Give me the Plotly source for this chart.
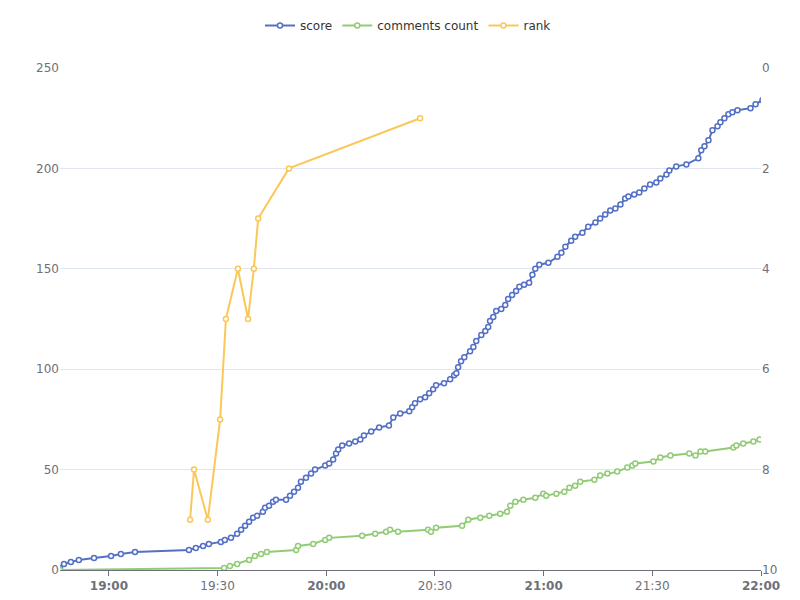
import plotly.graph_objects as go
import datetime as dt

base = dt.datetime(2020, 1, 1, 19, 0)

score_min = [-13.5,-12.4,-10.5,-8.3,-4.1,0.6,3.3,7.2,22.1,24.0,26.0,27.6,30.9,32.0,33.7,35.4,36.5,37.6,38.7,39.8,40.9,42.5,43.1,44.2,45.3,46.1,48.9,50.0,51.1,52.2,53.0,54.4,55.8,56.9,59.7,60.8,61.9,62.7,63.3,64.4,66.3,68.0,69.4,70.4,72.4,74.6,77.3,78.5,80.4,82.9,83.7,84.5,85.9,87.3,88.4,89.5,90.3,92.5,94.2,95.3,95.9,96.4,97.2,98.1,99.7,100.6,101.4,102.8,103.9,104.7,105.2,106.1,106.9,108.3,109.4,110.2,111.3,112.4,113.3,114.6,116.0,116.9,117.7,118.8,121.3,123.8,124.9,126.0,127.6,128.7,130.7,132.3,134.3,135.6,137.0,138.4,139.8,141.2,142.5,143.4,145.0,146.4,147.8,149.4,151.1,152.2,153.9,154.7,156.6,159.4,162.7,163.5,164.4,165.5,166.6,168.0,168.8,169.9,171.0,172.1,173.5,177.1,178.5,180.4]
score_val = [1,3,4,5,6,7,8,9,10,11,12,13,14,15,16,18,20,22,24,26,27,29,31,32,34,35,35,37,39,41,44,46,48,50,52,53,55,58,60,62,63,64,65,67,69,71,72,76,78,79,81,83,85,86,88,90,92,93,95,97,98,101,104,106,109,111,114,117,119,121,124,126,129,130,132,135,137,139,141,142,143,147,150,152,153,156,158,161,164,166,168,171,173,175,177,179,180,182,185,186,187,188,190,192,193,195,197,199,201,202,205,209,211,214,219,221,223,225,227,228,229,230,232,234]

comm_min = [-13.5,31.8,33.4,35.4,38.7,40.3,42.0,43.6,51.7,52.2,56.4,59.7,60.8,69.9,73.5,76.5,77.6,79.8,88.1,88.9,90.3,97.5,99.2,102.5,105.0,108.0,109.9,110.8,112.2,114.4,117.7,119.9,120.7,123.5,125.7,127.1,128.7,130.1,134.0,135.6,137.6,140.3,143.1,144.5,145.3,150.3,152.2,155.0,160.2,161.9,163.3,164.6,172.4,173.2,175.1,177.9,179.6]
comm_val = [0,1,2,3,5,7,8,9,10,12,13,15,16,17,18,19,20,19,20,19,21,22,25,26,27,28,29,32,34,35,36,38,37,38,39,41,42,44,45,47,48,49,51,52,53,54,56,57,58,57,59,59,61,62,63,64,65]

rank_min = [22.4,23.5,27.3,30.7,32.3,35.6,38.4,40.0,41.2,49.7,85.9]
rank_val = [9,8,9,7,5,4,5,4,3,2,1]

def t(ms):
    return [base + dt.timedelta(minutes=m) for m in ms]

mk = lambda c: dict(symbol="circle", size=5, color="white", line=dict(color=c, width=1.5))
fig = go.Figure()
fig.add_trace(go.Scatter(x=t(score_min), y=score_val, name="score", mode="lines+markers",
                         line=dict(color="#5470c6", width=2), marker=mk("#5470c6")))
fig.add_trace(go.Scatter(x=t(comm_min), y=comm_val, name="comments count", mode="lines+markers",
                         line=dict(color="#91cc75", width=2), marker=mk("#91cc75")))
fig.add_trace(go.Scatter(x=t(rank_min), y=rank_val, name="rank", mode="lines+markers", yaxis="y2",
                         line=dict(color="#fac858", width=2), marker=mk("#fac858")))

tv = [base + dt.timedelta(minutes=30*i) for i in range(7)]
tt = ["<b>19:00</b>","19:30","<b>20:00</b>","20:30","<b>21:00</b>","21:30","<b>22:00</b>"]
fig.update_layout(
    width=800, height=600, plot_bgcolor="white", paper_bgcolor="white",
    margin=dict(l=52, r=47, t=60, b=38, autoexpand=False),
    font=dict(family="DejaVu Sans", size=12, color="#6e7079"),
    legend=dict(orientation="h", x=0.5, xanchor="center", xref="container", y=0.995, yanchor="top",
                yref="container", font=dict(color="#333", size=12)),
    xaxis=dict(range=[base + dt.timedelta(minutes=-13.5), base + dt.timedelta(minutes=180)],
               tickvals=tv, ticktext=tt, showgrid=False, showline=True, linecolor="#6e7079",
               ticks="outside", tickcolor="#6e7079", ticklen=5, zeroline=False, automargin=False),
    yaxis=dict(range=[0, 250], tickvals=[0,50,100,150,200,250], gridcolor="#e0e6f1", zeroline=False,
               showline=False, ticks="", automargin=False),
    yaxis2=dict(range=[10, 0], overlaying="y", side="right", tickvals=[0,2,4,6,8,10],
                showgrid=False, zeroline=False, showline=False, automargin=False),
)
fig.write_html("out.html")
